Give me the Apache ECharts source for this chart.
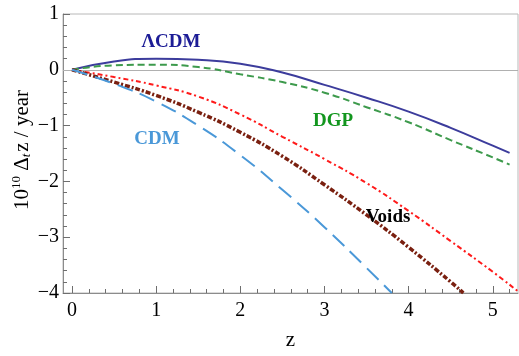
<!DOCTYPE html>
<html><head><meta charset="utf-8">
<script src="https://cdn.jsdelivr.net/npm/echarts@6/dist/echarts.min.js"></script>
<style>html,body{margin:0;padding:0;background:#fff}#c{width:519px;height:356px}</style>
</head><body><div id="c"></div>
<script>
// Data
const lcdmZ = [0, 0.5, 1, 1.5, 2, 2.5, 3, 3.5, 4, 4.5, 5, 5.2];
const lcdmV = [0, 0.15, 0.2, 0.18, 0.11, -0.05, -0.27, -0.5, -0.75, -1.04, -1.36, -1.49];
const dgpZ = [0, 0.5, 1, 1.5, 2, 2.5, 3, 3.5, 4, 4.5, 5, 5.2];
const dgpV = [0, 0.08, 0.09, 0.05, -0.08, -0.22, -0.41, -0.67, -0.94, -1.26, -1.57, -1.70];
const redZ = [0, 0.5, 1, 1.5, 2, 2.5, 3, 3.5, 4, 4.5, 5, 5.3];
const redV = [0, -0.13, -0.28, -0.48, -0.8, -1.2, -1.6, -2.03, -2.53, -3.07, -3.62, -3.97];
const voidsZ = [0, 0.5, 1, 1.5, 2, 2.5, 3, 3.5, 4, 4.5, 4.65];
const voidsV = [0, -0.22, -0.46, -0.76, -1.12, -1.55, -2.06, -2.6, -3.18, -3.8, -4.0];
const cdmZ = [0, 0.5, 1, 1.5, 2, 2.5, 3, 3.5, 3.8];
const cdmV = [0, -0.25, -0.57, -1.0, -1.53, -2.15, -2.82, -3.55, -4.0];
const xMajorTicks = [0, 1, 2, 3, 4, 5];
const xMinorTicks = [0.2,0.4,0.6,0.8,1.2,1.4,1.6,1.8,2.2,2.4,2.6,2.8,3.2,3.4,3.6,3.8,4.2,4.4,4.6,4.8,5.2];
const curveLabels = [
  {text: 'ΛCDM', x: 171, y: 42, color: '#1c1c96'},
  {text: 'DGP', x: 333, y: 121, color: '#12961e'},
  {text: 'CDM', x: 157, y: 139, color: '#4a98d8'},
  {text: 'Voids', x: 388, y: 217, color: '#000000'}
];

const pairs = (zs, vs) => zs.map((z, i) => [z, vs[i]]);
const serif = 'Liberation Serif';
const fmt = v => v < 0 ? '\u2212' + Math.abs(v) : String(v);
const tickColor = '#6e6e6e';

const chart = echarts.init(document.getElementById('c'), null, {renderer: 'canvas'});
const line = (name, zs, vs, color, width, type) => ({
  name, type: 'line', data: pairs(zs, vs), smooth: true, showSymbol: false,
  xAxisIndex: 0, lineStyle: {color, width, type}, animation: false, z: 3
});

chart.setOption({
  animation: false,
  textStyle: {fontFamily: serif},
  grid: {left: 63, right: 1, top: 14, bottom: 60, show: true, borderColor: '#b8b8b8', borderWidth: 1},
  xAxis: [{
    type: 'value', min: -0.107, max: 5.3,
    axisLine: {show: true, onZero: false, lineStyle: {color: '#8c8c8c', width: 1}},
    axisTick: {show: true, inside: true, length: 7, customValues: xMajorTicks, lineStyle: {color: tickColor, width: 1}},
    axisLabel: {customValues: xMajorTicks, formatter: fmt, color: '#000', fontFamily: serif, fontSize: 20, margin: 8},
    splitLine: {show: false},
    name: 'z', nameLocation: 'middle', nameGap: 37,
    nameTextStyle: {color: '#000', fontFamily: serif, fontSize: 21}
  }, {
    type: 'value', min: -0.107, max: 5.3, position: 'bottom',
    axisLine: {show: false, onZero: false},
    axisTick: {show: true, inside: true, length: 4, customValues: xMinorTicks, lineStyle: {color: tickColor, width: 1}},
    axisLabel: {show: false},
    splitLine: {show: false}
  }],
  yAxis: {
    type: 'value', min: -4, max: 1, interval: 1,
    axisLine: {show: true, onZero: false, lineStyle: {color: '#8c8c8c', width: 1}},
    axisTick: {show: true, inside: true, length: 7, lineStyle: {color: tickColor, width: 1}},
    minorTick: {show: true, splitNumber: 5, length: 4, lineStyle: {color: tickColor, width: 1}},
    axisLabel: {formatter: fmt, color: '#000', fontFamily: serif, fontSize: 20, margin: 4},
    splitLine: {show: false}
  },
  series: [
    Object.assign(line('ΛCDM', lcdmZ, lcdmV, '#3c3c9c', 2, 'solid'), {
      markLine: {silent: true, symbol: 'none', label: {show: false},
        lineStyle: {color: '#b0b0b0', width: 1, type: 'solid'}, data: [{yAxis: 0}], z: 1}
    }),
    line('DGP', dgpZ, dgpV, '#3d9a4c', 2, [7, 4]),
    line('red', redZ, redV, '#ff1a1a', 2, [5, 3, 2, 3]),
    line('Voids', voidsZ, voidsV, '#7a2010', 3.5, [5, 2, 2, 2]),
    line('CDM', cdmZ, cdmV, '#4a98d8', 2, [16, 8])
  ],
  graphic: curveLabels.map(l => ({
    type: 'text', x: l.x, y: l.y, z: 10,
    style: {text: l.text, fill: l.color, fontFamily: serif, fontWeight: 'bold', fontSize: 19, align: 'center', verticalAlign: 'middle'}
  })).concat([{
    type: 'text', x: 22, y: 150, rotation: Math.PI / 2, z: 10,
    style: {
      text: '{n|10}{s|10}{n| Δ}{b|t}{n|z / year}',
      align: 'center', verticalAlign: 'middle',
      rich: {
        n: {fontFamily: serif, fontSize: 21, fill: '#000'},
        s: {fontFamily: serif, fontSize: 13, fill: '#000', verticalAlign: 'top', padding: [0, 0, 10, 0]},
        b: {fontFamily: serif, fontStyle: 'italic', fontSize: 13, fill: '#000', verticalAlign: 'bottom', padding: [8, 2, 0, 0]}
      }
    }
  }])
});
</script></body></html>
